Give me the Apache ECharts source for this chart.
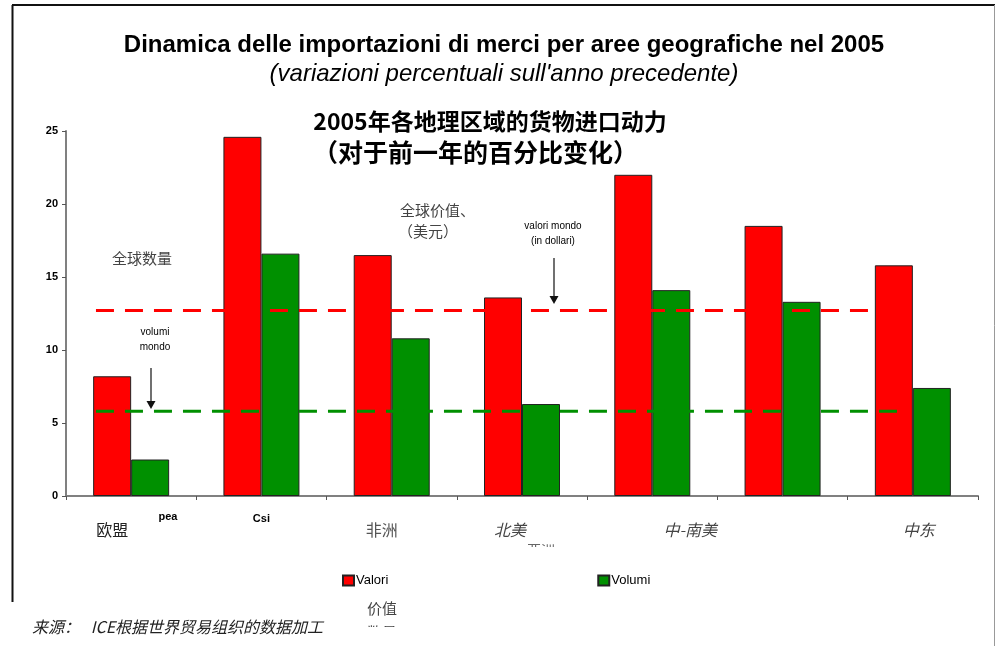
<!DOCTYPE html>
<html><head><meta charset="utf-8">
<script src="https://cdn.jsdelivr.net/npm/echarts@6/dist/echarts.min.js"></script>
<style>html,body{margin:0;padding:0;background:#fff}#c{width:996px;height:646px}</style>
</head><body><div id="c"></div>
<script>
const categories = ['Europa', 'Csi', 'Africa', 'Nord America', 'Centro-Sud America', 'Asia', 'Medio Oriente'];
const tickLabels = ['欧盟', 'Csi', '非洲', '北美', '中-南美', '', '中东'];
const valori = [8.2, 24.6, 16.5, 13.6, 22.0, 18.5, 15.8];
const volumi = [2.5, 16.6, 10.8, 6.3, 14.1, 13.3, 7.4];
const worldValori = 12.7;
const worldVolumi = 5.8;
const yTicks = [0, 5, 10, 15, 20, 25];

const chart = echarts.init(document.getElementById('c'));
const zh = '"Noto Sans CJK SC", sans-serif';
const lat = '"Liberation Sans", Arial, sans-serif';
const refStart = 0.23, refEnd = 6.45;

const richBase = {fontFamily: zh, fontSize: 16, lineHeight: 16, color: '#333'};
const rich = {
  s0: Object.assign({}, richBase, {padding: [23, 38, 0, 0], color: '#222'}),
  s1: {fontFamily: lat, fontSize: 11, fontWeight: 'bold', lineHeight: 13, color: '#000', padding: [5, 0, 0, 0]},
  s2: Object.assign({}, richBase, {padding: [23, 20, 0, 0], color: '#555'}),
  s3: Object.assign({}, richBase, {padding: [23, 24, 0, 0], fontStyle: 'italic', color: '#444'}),
  s4: Object.assign({}, richBase, {padding: [23, 0, 0, 76], fontStyle: 'italic', color: '#444'}),
  s5: Object.assign({}, richBase, {padding: [23, 0, 0, 0]}),
  s6: Object.assign({}, richBase, {padding: [23, 0, 0, 12], fontStyle: 'italic', color: '#444'})
};

chart.setOption({
  animation: false,
  backgroundColor: '#fff',
  grid: {left: 66, right: 18, top: 131, bottom: 150, containLabel: false},
  legend: {
    data: ['Valori', 'Volumi'], left: 342, top: 574, icon: 'rect', padding: 0,
    itemWidth: 11, itemHeight: 10, itemGap: 209,
    textStyle: {fontFamily: lat, fontSize: 13, color: '#000', padding: [0, 0, 0, -3]}
  },
  xAxis: [{
    type: 'category', data: categories,
    axisLine: {lineStyle: {color: '#808080', width: 2}},
    axisTick: {show: true, length: 4, lineStyle: {color: '#555', width: 1}},
    axisLabel: {
      margin: 14, interval: 0,
      formatter: function (v, i) { return tickLabels[i] ? '{s' + i + '|' + tickLabels[i] + '}' : ''; },
      rich: rich
    }
  }, {
    type: 'value', min: 0, max: 7, show: false
  }],
  yAxis: {
    type: 'value', min: yTicks[0], max: yTicks[yTicks.length - 1], interval: 5,
    axisLine: {show: true, lineStyle: {color: '#808080', width: 2}},
    axisTick: {show: true, length: 4, lineStyle: {color: '#555'}},
    splitLine: {show: false},
    axisLabel: {fontFamily: lat, fontSize: 11, fontWeight: 'bold', color: '#000', margin: 8}
  },
  series: [
    {name: 'Valori', type: 'bar', data: valori, barWidth: 38, barGap: '0%',
     itemStyle: {color: '#ff0000', borderColor: '#222', borderWidth: 1}},
    {name: 'Volumi', type: 'bar', data: volumi, barWidth: 38, barGap: '0%',
     itemStyle: {color: '#009000', borderColor: '#222', borderWidth: 1}},
    {name: 'worldValori', type: 'line', xAxisIndex: 1, z: 5, symbol: 'none', silent: true,
     data: [[refStart, worldValori], [refEnd, worldValori]],
     lineStyle: {color: '#ff0000', width: 3, type: [18, 11]}},
    {name: 'worldVolumi', type: 'line', xAxisIndex: 1, z: 5, symbol: 'none', silent: true,
     data: [[refStart, worldVolumi], [refEnd, worldVolumi]],
     lineStyle: {color: '#009000', width: 3, type: [18, 11]}}
  ],
  graphic: [
    {type: 'line', shape: {x1: 12, y1: 5, x2: 995, y2: 5}, style: {stroke: '#111', lineWidth: 2}},
    {type: 'line', shape: {x1: 12.5, y1: 5, x2: 12.5, y2: 602}, style: {stroke: '#111', lineWidth: 2}},
    {type: 'line', shape: {x1: 994.5, y1: 5, x2: 994.5, y2: 646}, style: {stroke: '#999', lineWidth: 1}},
    {type: 'text', x: 504, y: 45, style: {text: 'Dinamica delle importazioni di merci per aree geografiche nel 2005', font: 'bold 24px ' + lat, fill: '#000', textAlign: 'center', textVerticalAlign: 'middle'}},
    {type: 'text', x: 504, y: 74, style: {text: "(variazioni percentuali sull'anno precedente)", font: 'italic 24px ' + lat, fill: '#000', textAlign: 'center', textVerticalAlign: 'middle'}},
    {type: 'text', x: 490, y: 121, style: {text: '2005年各地理区域的货物进口动力', font: 'bold 23px ' + zh, fill: '#000', textAlign: 'center', textVerticalAlign: 'middle'}},
    {type: 'text', x: 313, y: 152, style: {text: '（对于前一年的百分比变化）', font: 'bold 25px ' + zh, fill: '#000', textAlign: 'left', textVerticalAlign: 'middle'}},
    {type: 'text', x: 112, y: 258, style: {text: '全球数量', font: '15px ' + zh, fill: '#444', textVerticalAlign: 'middle'}},
    {type: 'text', x: 400, y: 210, style: {text: '全球价值、', font: '15px ' + zh, fill: '#444', textVerticalAlign: 'middle'}},
    {type: 'text', x: 398, y: 231, style: {text: '（美元）', font: '15px ' + zh, fill: '#444', textVerticalAlign: 'middle'}},
    {type: 'text', x: 553, y: 226, style: {text: 'valori mondo', font: '10px ' + lat, fill: '#000', textAlign: 'center', textVerticalAlign: 'middle'}},
    {type: 'text', x: 553, y: 241, style: {text: '(in dollari)', font: '10px ' + lat, fill: '#000', textAlign: 'center', textVerticalAlign: 'middle'}},
    {type: 'line', shape: {x1: 554, y1: 258, x2: 554, y2: 298}, style: {stroke: '#111', lineWidth: 1.2}},
    {type: 'polygon', shape: {points: [[549.5, 296], [558.5, 296], [554, 304]]}, style: {fill: '#111'}},
    {type: 'text', x: 155, y: 332, style: {text: 'volumi', font: '10px ' + lat, fill: '#000', textAlign: 'center', textVerticalAlign: 'middle'}},
    {type: 'text', x: 155, y: 347, style: {text: 'mondo', font: '10px ' + lat, fill: '#000', textAlign: 'center', textVerticalAlign: 'middle'}},
    {type: 'line', shape: {x1: 151, y1: 368, x2: 151, y2: 403}, style: {stroke: '#111', lineWidth: 1.2}},
    {type: 'polygon', shape: {points: [[146.5, 401], [155.5, 401], [151, 409]]}, style: {fill: '#111'}},
    {type: 'text', x: 168, y: 517, style: {text: 'pea', font: 'bold 11px ' + lat, fill: '#000', textAlign: 'center', textVerticalAlign: 'middle'}},
    {type: 'text', x: 541, y: 550, style: {text: '亚洲', font: '14px ' + zh, fill: '#666', textAlign: 'center', textVerticalAlign: 'middle'}},
    {type: 'rect', shape: {x: 520, y: 547, width: 45, height: 20}, style: {fill: '#fff'}},
    {type: 'text', x: 382, y: 608, style: {text: '价值', font: '15px ' + zh, fill: '#444', textAlign: 'center', textVerticalAlign: 'middle'}},
    {type: 'text', x: 382, y: 632, style: {text: '数量', font: '15px ' + zh, fill: '#444', textAlign: 'center', textVerticalAlign: 'middle'}},
    {type: 'rect', shape: {x: 360, y: 627, width: 45, height: 19}, style: {fill: '#fff'}},
    {type: 'text', x: 32, y: 627, style: {text: '来源：   ICE根据世界贸易组织的数据加工', font: 'italic 16px ' + zh, fill: '#222', textVerticalAlign: 'middle'}}
  ]
});
</script></body></html>
